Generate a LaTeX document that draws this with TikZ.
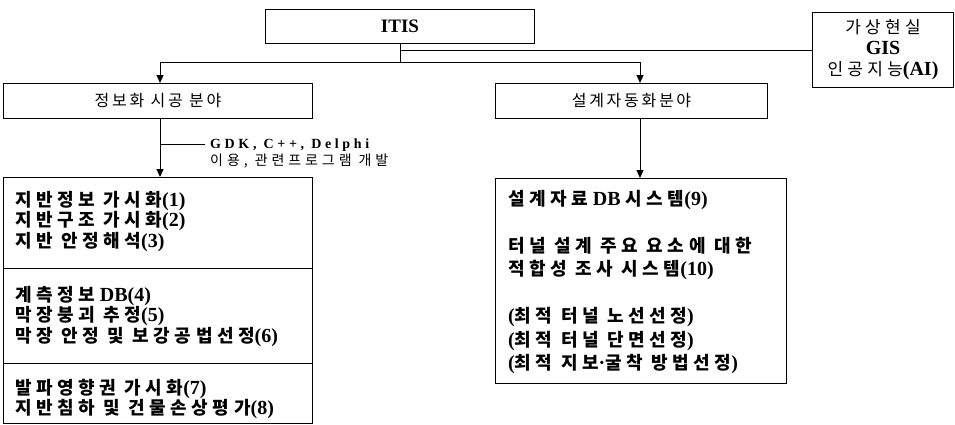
\documentclass[tikz,border=0pt]{standalone}
\usepackage{fontspec}
\setmainfont{Liberation Serif}
\newfontfamily\kr[LetterSpace=17]{Noto Sans CJK KR}
\newfontfamily\krw[LetterSpace=25]{Noto Sans CJK KR}
\newfontfamily\krn[LetterSpace=28]{Noto Sans CJK KR}
\usetikzlibrary{arrows.meta}
\newcommand{\hk}[1]{{\kr\mdseries #1}}
\newcommand{\hkb}[1]{{\krw\bfseries\fontsize{18}{20.5}\selectfont #1}}
\newcommand{\hkr}[1]{{\krw\bfseries\fontsize{18}{23.5}\selectfont #1}}
\begin{document}
\begin{tikzpicture}[x=1pt,y=-1pt,
  box/.style={draw, line width=1pt, inner sep=0pt, anchor=north west},
  arr/.style={-{Triangle[width=7pt,length=8pt]}, line width=1pt},
  ln/.style={line width=1pt},
  titlefont/.style={font=\fontsize{16}{18}\selectfont},
  listtext/.style={anchor=north west, align=left, inner sep=0pt, font=\fontsize{20}{20.5}\selectfont\bfseries},
  righttext/.style={anchor=north west, align=left, inner sep=0pt, font=\fontsize{20}{23.5}\selectfont\bfseries},
  note/.style={anchor=north west, align=left, inner sep=0pt, font=\fontsize{14}{17}\selectfont}]
\useasboundingbox (0,0) rectangle (955,424);

% boxes
\node[box, minimum width=269pt, minimum height=34pt, font=\fontsize{19}{21}\selectfont\bfseries] (itis) at (265,9) {ITIS};
\node[box, minimum width=141pt, minimum height=75pt, align=center, font=\fontsize{20}{21}\selectfont\bfseries] (gis) at (812,12) {{\krw\mdseries\fontsize{17}{21}\selectfont 가상현실}\\GIS\\{\krw\mdseries\fontsize{17}{21}\selectfont 인공지능}(AI)};
\node[box, minimum width=309pt, minimum height=35pt, titlefont] (info) at (3,83) {\hk{정보화 시공 분야}};
\node[box, minimum width=272pt, minimum height=35pt, titlefont] (design) at (495,83) {\hk{설계자동화분야}};

\node[box, minimum width=309pt, minimum height=91pt] (L1) at (3,177) {};
\node[box, minimum width=309pt, minimum height=95pt] (L2) at (3,268) {};
\node[box, minimum width=309pt, minimum height=60pt] (L3) at (3,363) {};
\node[box, minimum width=291pt, minimum height=205pt] (R) at (495,178) {};

% texts
\node[listtext] (t1) at (15,191) {\hkb{지반정보 가시화}(1)\\\hkb{지반구조 가시화}(2)\\\hkb{지반 안정해석}(3)};
\node[listtext] (t2) at (15,286) {\hkb{계측정보} DB(4)\\\hkb{막장붕괴 추정}(5)\\\hkb{막장 안정 및 보강공법선정}(6)};
\node[listtext] (t3) at (15,379) {\hkb{발파영향권 가시화}(7)\\\hkb{지반침하 및 건물손상평가}(8)};
\node[righttext] (t4) at (508,190) {\hkr{설계자료} DB \hkr{시스템}(9)\\[23.5pt]\hkr{터널 설계 주요 요소에 대한}\\\hkr{적합성 조사 시스템}(10)\\[23.5pt](\hkr{최적 터널 노선선정})\\(\hkr{최적 터널 단면선정})\\(\hkr{최적 지보}·\hkr{굴착 방법선정})};

% connectors
\coordinate (jL) at (160,62);
\coordinate (jR) at (640,62);
\coordinate (br) at (205,144);
\draw[ln] (itis.south) -- (itis.south |- jL);
\draw[ln] (jL) -- (jR);
\draw[ln] (gis.west) -- (gis.west -| itis.south);
\draw[arr] (jL) -- (jL |- info.north);
\draw[arr] (jR) -- (jR |- design.north);
\draw[arr] (info.south -| jL) -- (jL |- L1.north);
\draw[arr] (design.south -| jR) -- (jR |- R.north);
\draw[ln] (br -| jL) -- (br);
\node[note] (n1) at (210,139) {{\bfseries\addfontfeature{LetterSpace=26}GDK, C++, Delphi}\\{\krn 이용, 관련프로그램 개발}};
\end{tikzpicture}
\end{document}
